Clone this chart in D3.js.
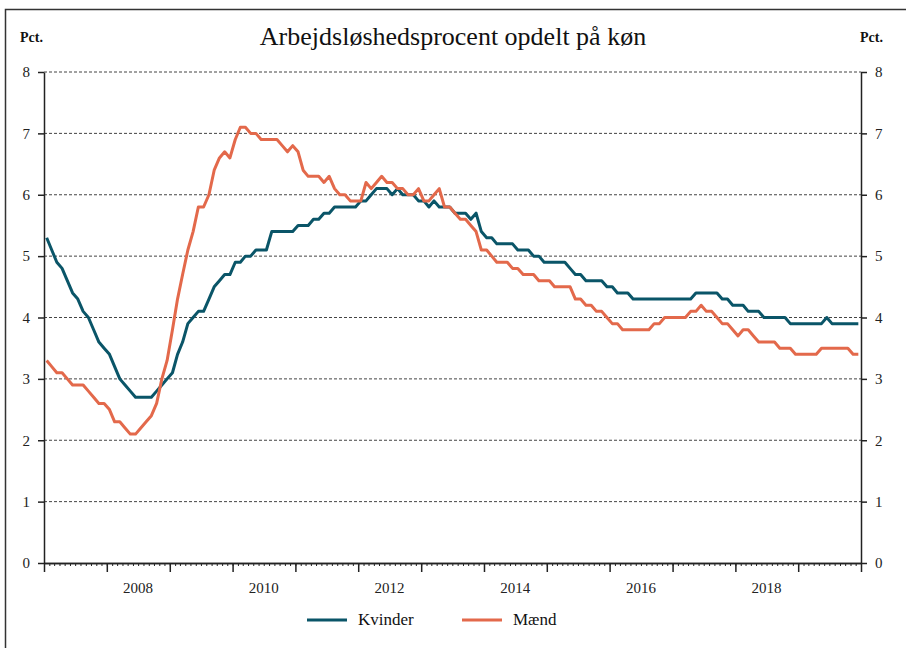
<!DOCTYPE html>
<html>
<head>
<meta charset="utf-8">
<script src="https://cdn.jsdelivr.net/npm/d3@7"></script>
<style>
  body { margin: 0; background: #fff; }
  svg { display: block; }
  .axis text { font: 15px "Liberation Serif", "DejaVu Serif", serif; fill: #222; }
  .axis path, .axis line { stroke: #222; stroke-width: 1.5; }
  .grid line { stroke: #444; stroke-width: 1; stroke-dasharray: 3,2; }
</style>
</head>
<body>
<script>
// Arbejdsløshedsprocent, månedlig jan 2007 - dec 2019
const kvinder = [
  5.3, 5.1, 4.9, 4.8, 4.6, 4.4, 4.3, 4.1, 4.0, 3.8, 3.6, 3.5, // 2007
  3.4, 3.2, 3.0, 2.9, 2.8, 2.7, 2.7, 2.7, 2.7, 2.8, 2.9, 3.0, // 2008
  3.1, 3.4, 3.6, 3.9, 4.0, 4.1, 4.1, 4.3, 4.5, 4.6, 4.7, 4.7, // 2009
  4.9, 4.9, 5.0, 5.0, 5.1, 5.1, 5.1, 5.4, 5.4, 5.4, 5.4, 5.4, // 2010
  5.5, 5.5, 5.5, 5.6, 5.6, 5.7, 5.7, 5.8, 5.8, 5.8, 5.8, 5.8, // 2011
  5.9, 5.9, 6.0, 6.1, 6.1, 6.1, 6.0, 6.1, 6.0, 6.0, 6.0, 5.9, // 2012
  5.9, 5.8, 5.9, 5.8, 5.8, 5.8, 5.7, 5.7, 5.7, 5.6, 5.7, 5.4, // 2013
  5.3, 5.3, 5.2, 5.2, 5.2, 5.2, 5.1, 5.1, 5.1, 5.0, 5.0, 4.9, // 2014
  4.9, 4.9, 4.9, 4.9, 4.8, 4.7, 4.7, 4.6, 4.6, 4.6, 4.6, 4.5, // 2015
  4.5, 4.4, 4.4, 4.4, 4.3, 4.3, 4.3, 4.3, 4.3, 4.3, 4.3, 4.3, // 2016
  4.3, 4.3, 4.3, 4.3, 4.4, 4.4, 4.4, 4.4, 4.4, 4.3, 4.3, 4.2, // 2017
  4.2, 4.2, 4.1, 4.1, 4.1, 4.0, 4.0, 4.0, 4.0, 4.0, 3.9, 3.9, // 2018
  3.9, 3.9, 3.9, 3.9, 3.9, 4.0, 3.9, 3.9, 3.9, 3.9, 3.9, 3.9  // 2019
];
const maend = [
  3.3, 3.2, 3.1, 3.1, 3.0, 2.9, 2.9, 2.9, 2.8, 2.7, 2.6, 2.6, // 2007
  2.5, 2.3, 2.3, 2.2, 2.1, 2.1, 2.2, 2.3, 2.4, 2.6, 3.0, 3.3, // 2008
  3.8, 4.3, 4.7, 5.1, 5.4, 5.8, 5.8, 6.0, 6.4, 6.6, 6.7, 6.6, // 2009
  6.9, 7.1, 7.1, 7.0, 7.0, 6.9, 6.9, 6.9, 6.9, 6.8, 6.7, 6.8, // 2010
  6.7, 6.4, 6.3, 6.3, 6.3, 6.2, 6.3, 6.1, 6.0, 6.0, 5.9, 5.9, // 2011
  5.9, 6.2, 6.1, 6.2, 6.3, 6.2, 6.2, 6.1, 6.1, 6.0, 6.0, 6.1, // 2012
  5.9, 5.9, 6.0, 6.1, 5.8, 5.8, 5.7, 5.6, 5.6, 5.5, 5.4, 5.1, // 2013
  5.1, 5.0, 4.9, 4.9, 4.9, 4.8, 4.8, 4.7, 4.7, 4.7, 4.6, 4.6, // 2014
  4.6, 4.5, 4.5, 4.5, 4.5, 4.3, 4.3, 4.2, 4.2, 4.1, 4.1, 4.0, // 2015
  3.9, 3.9, 3.8, 3.8, 3.8, 3.8, 3.8, 3.8, 3.9, 3.9, 4.0, 4.0, // 2016
  4.0, 4.0, 4.0, 4.1, 4.1, 4.2, 4.1, 4.1, 4.0, 3.9, 3.9, 3.8, // 2017
  3.7, 3.8, 3.8, 3.7, 3.6, 3.6, 3.6, 3.6, 3.5, 3.5, 3.5, 3.4, // 2018
  3.4, 3.4, 3.4, 3.4, 3.5, 3.5, 3.5, 3.5, 3.5, 3.5, 3.4, 3.4  // 2019
];
const yTicks = [0, 1, 2, 3, 4, 5, 6, 7, 8];
const yearLabels = [2008, 2010, 2012, 2014, 2016, 2018];
const series = [
  { name: "Kvinder", values: kvinder, color: "#0a5568" },
  { name: "Mænd", values: maend, color: "#e3694b" }
];

const width = 906;
const height = 648;
const plotLeft = 44, plotRight = 861, plotTop = 72, plotBottom = 563;

const start = new Date(2007, 0, 1);
const end = new Date(2020, 0, 1);
// midten af hver måned
const months = d3.timeMonth.range(start, end)
    .map(m => new Date((+m + +d3.timeMonth.offset(m, 1)) / 2));

const svg = d3.select("body").append("svg")
    .attr("width", width)
    .attr("height", height);

// ramme
svg.append("rect")
    .attr("x", 5.5)
    .attr("y", 9.5)
    .attr("width", 960)
    .attr("height", 700)
    .attr("fill", "none")
    .attr("stroke", "#333")
    .attr("stroke-width", 1.5);

const x = d3.scaleTime().domain([start, end]).range([plotLeft, plotRight]);
const y = d3.scaleLinear().domain([0, 8]).range([plotBottom, plotTop]);

// titel og enheder
svg.append("text")
    .attr("x", 453)
    .attr("y", 45)
    .attr("text-anchor", "middle")
    .style("font", "26px 'Liberation Serif', serif")
    .style("fill", "#111")
    .text("Arbejdsløshedsprocent opdelt på køn");

svg.append("text")
    .attr("x", 20)
    .attr("y", 42)
    .style("font", "bold 14px 'Liberation Serif', serif")
    .style("fill", "#111")
    .text("Pct.");

svg.append("text")
    .attr("x", 860)
    .attr("y", 42)
    .style("font", "bold 14px 'Liberation Serif', serif")
    .style("fill", "#111")
    .text("Pct.");

// gitterlinjer
svg.append("g")
    .attr("class", "grid")
    .selectAll("line")
    .data(yTicks.filter(d => d > 0))
    .enter().append("line")
    .attr("x1", plotLeft)
    .attr("x2", plotRight)
    .attr("y1", d => y(d))
    .attr("y2", d => y(d));

// y-akser
svg.append("g")
    .attr("class", "axis")
    .attr("transform", `translate(${plotLeft},0)`)
    .call(d3.axisLeft(y).tickValues(yTicks).tickSize(6).tickSizeOuter(0).tickPadding(8));

svg.append("g")
    .attr("class", "axis")
    .attr("transform", `translate(${plotRight},0)`)
    .call(d3.axisRight(y).tickValues(yTicks).tickSize(6).tickSizeOuter(0).tickPadding(8));

// x-akse: måneder og år
svg.append("g")
    .attr("class", "axis")
    .attr("transform", `translate(0,${plotBottom})`)
    .call(d3.axisBottom(x).ticks(d3.timeMonth.every(1)).tickSize(3).tickSizeOuter(0).tickFormat(""))
    .selectAll("line").style("stroke-width", 1);

svg.append("g")
    .attr("class", "axis")
    .attr("transform", `translate(0,${plotBottom})`)
    .call(d3.axisBottom(x).ticks(d3.timeYear.every(1)).tickSize(9).tickSizeOuter(0).tickFormat(""));

svg.append("g")
    .attr("class", "axis")
    .selectAll("text")
    .data(yearLabels)
    .enter().append("text")
    .attr("x", d => x(new Date(d, 6, 1)))
    .attr("y", 593)
    .attr("text-anchor", "middle")
    .text(d => d);

// linjer
const line = d3.line()
    .x((d, i) => x(months[i]))
    .y(d => y(d));

svg.selectAll(".serie")
    .data(series)
    .enter().append("path")
    .attr("class", "serie")
    .attr("fill", "none")
    .attr("stroke", d => d.color)
    .attr("stroke-width", 3)
    .attr("stroke-linejoin", "round")
    .attr("d", d => line(d.values));

// forklaring
const legend = svg.selectAll(".legend")
    .data(series)
    .enter().append("g")
    .attr("class", "legend")
    .attr("transform", (d, i) => `translate(${307 + i * 155},620)`);

legend.append("line")
    .attr("x1", 0)
    .attr("x2", 40)
    .attr("stroke", d => d.color)
    .attr("stroke-width", 3);

legend.append("text")
    .attr("x", 51)
    .attr("y", 5)
    .style("font", "17px 'Liberation Serif', serif")
    .style("fill", "#111")
    .text(d => d.name);
</script>
</body>
</html>
